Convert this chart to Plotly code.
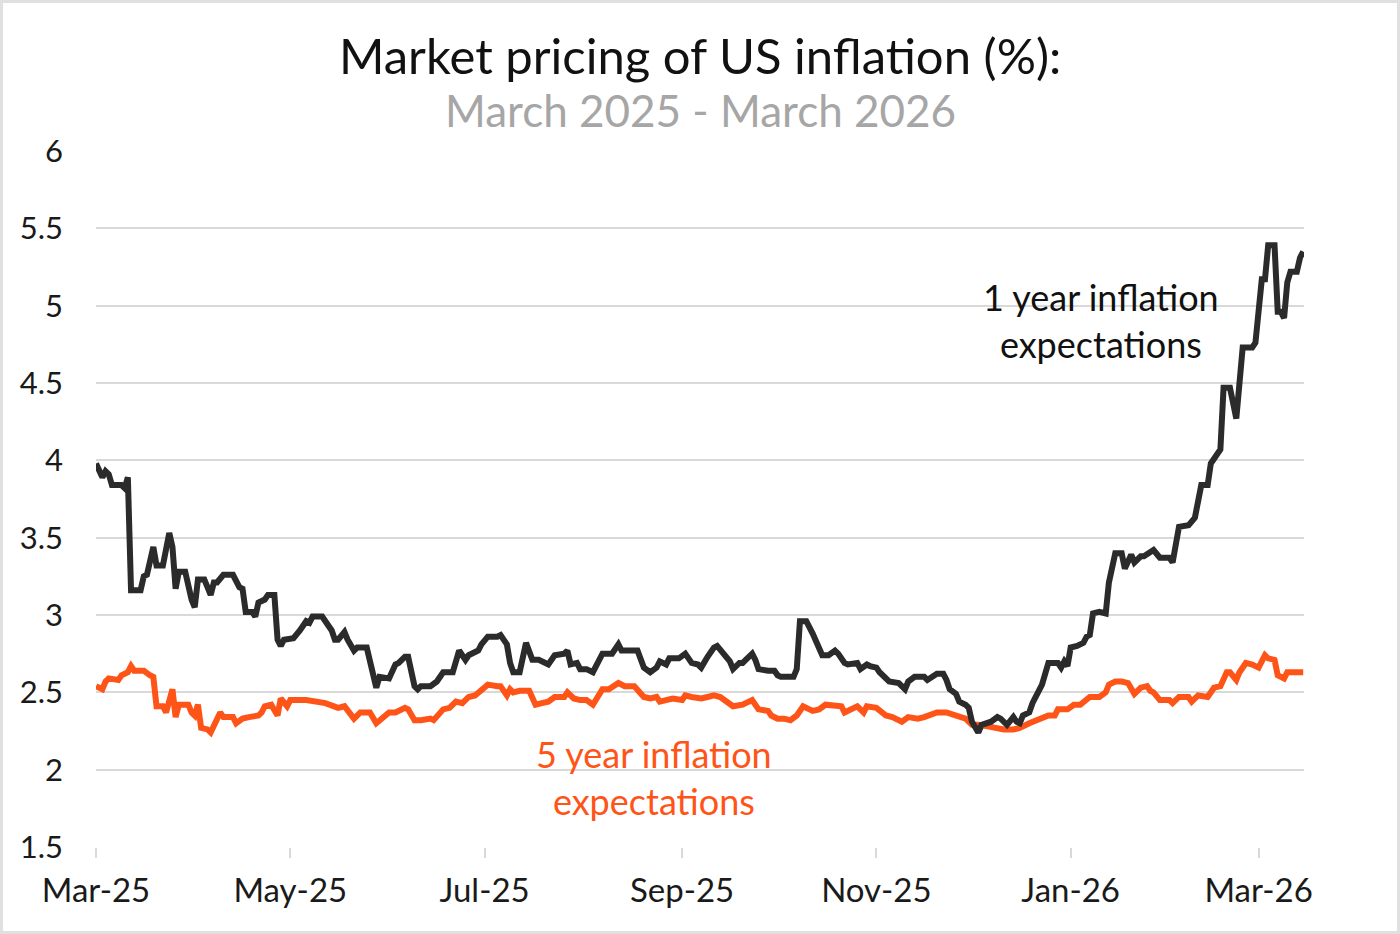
import plotly.graph_objects as go

# 1 year inflation expectations (black)
one_year_dates = [
    "2025-03-01", "2025-03-03", "2025-03-04", "2025-03-05", "2025-03-06", "2025-03-09", "2025-03-10",
    "2025-03-11", "2025-03-12", "2025-03-15", "2025-03-16", "2025-03-17", "2025-03-19", "2025-03-20",
    "2025-03-22", "2025-03-24", "2025-03-25", "2025-03-26", "2025-03-27", "2025-03-29", "2025-03-31",
    "2025-04-01", "2025-04-02", "2025-04-04", "2025-04-06", "2025-04-07", "2025-04-08", "2025-04-10",
    "2025-04-13", "2025-04-15", "2025-04-16", "2025-04-17", "2025-04-19", "2025-04-20", "2025-04-21",
    "2025-04-23", "2025-04-24", "2025-04-26", "2025-04-27", "2025-04-28", "2025-04-29", "2025-05-02",
    "2025-05-04", "2025-05-06", "2025-05-07", "2025-05-08", "2025-05-11", "2025-05-13", "2025-05-14",
    "2025-05-15", "2025-05-16", "2025-05-18", "2025-05-19", "2025-05-21", "2025-05-22", "2025-05-25",
    "2025-05-26", "2025-05-28", "2025-05-29", "2025-06-01", "2025-06-03", "2025-06-04", "2025-06-06",
    "2025-06-07", "2025-06-09", "2025-06-10", "2025-06-11", "2025-06-14", "2025-06-16", "2025-06-18",
    "2025-06-21", "2025-06-23", "2025-06-24", "2025-06-25", "2025-06-26", "2025-06-29", "2025-06-30",
    "2025-07-02", "2025-07-05", "2025-07-06", "2025-07-08", "2025-07-09", "2025-07-10", "2025-07-12",
    "2025-07-14", "2025-07-16", "2025-07-18", "2025-07-21", "2025-07-23", "2025-07-26", "2025-07-27",
    "2025-07-28", "2025-07-30", "2025-07-31", "2025-08-02", "2025-08-04", "2025-08-07", "2025-08-10",
    "2025-08-12", "2025-08-13", "2025-08-18", "2025-08-20", "2025-08-22", "2025-08-24", "2025-08-25",
    "2025-08-27", "2025-08-28", "2025-08-31", "2025-09-02", "2025-09-04", "2025-09-06", "2025-09-07",
    "2025-09-09", "2025-09-11", "2025-09-12", "2025-09-14", "2025-09-16", "2025-09-17", "2025-09-19",
    "2025-09-20", "2025-09-23", "2025-09-24", "2025-09-25", "2025-09-28", "2025-09-30", "2025-10-01",
    "2025-10-02", "2025-10-06", "2025-10-07", "2025-10-08", "2025-10-10", "2025-10-12", "2025-10-14",
    "2025-10-15", "2025-10-17", "2025-10-19", "2025-10-20", "2025-10-22", "2025-10-23", "2025-10-26",
    "2025-10-27", "2025-10-28", "2025-10-29", "2025-10-30", "2025-11-01", "2025-11-02", "2025-11-05",
    "2025-11-08", "2025-11-10", "2025-11-11", "2025-11-13", "2025-11-16", "2025-11-17", "2025-11-20",
    "2025-11-22", "2025-11-23", "2025-11-24", "2025-11-26", "2025-11-27", "2025-11-29", "2025-11-30",
    "2025-12-01", "2025-12-02", "2025-12-03", "2025-12-04", "2025-12-06", "2025-12-07", "2025-12-09",
    "2025-12-10", "2025-12-12", "2025-12-14", "2025-12-15", "2025-12-16", "2025-12-17", "2025-12-19",
    "2025-12-20", "2025-12-22", "2025-12-23", "2025-12-25", "2025-12-26", "2025-12-28", "2025-12-29",
    "2025-12-30", "2025-12-31", "2026-01-01", "2026-01-03", "2026-01-05", "2026-01-06", "2026-01-07",
    "2026-01-08", "2026-01-10", "2026-01-12", "2026-01-13", "2026-01-15", "2026-01-17", "2026-01-18",
    "2026-01-20", "2026-01-21", "2026-01-23", "2026-01-24", "2026-01-26", "2026-01-27", "2026-01-29",
    "2026-02-01", "2026-02-02", "2026-02-03", "2026-02-04", "2026-02-07", "2026-02-09", "2026-02-11",
    "2026-02-13", "2026-02-14", "2026-02-16", "2026-02-17", "2026-02-18", "2026-02-20", "2026-02-22",
    "2026-02-24", "2026-02-27", "2026-02-28", "2026-03-02", "2026-03-03", "2026-03-04", "2026-03-06",
    "2026-03-07", "2026-03-08", "2026-03-09", "2026-03-10", "2026-03-11", "2026-03-13", "2026-03-14",
    "2026-03-15",
]
one_year_values = [
    3.98, 3.89, 3.93, 3.91, 3.84, 3.84, 3.82,
    3.89, 3.16, 3.16, 3.25, 3.26, 3.44, 3.32,
    3.32, 3.53, 3.44, 3.17, 3.28, 3.28, 3.10,
    3.05, 3.23, 3.23, 3.13, 3.21, 3.21, 3.26,
    3.26, 3.18, 3.17, 3.02, 3.02, 2.99, 3.08,
    3.10, 3.13, 3.13, 2.84, 2.80, 2.84, 2.85,
    2.90, 2.96, 2.95, 2.99, 2.99, 2.94, 2.90,
    2.84, 2.84, 2.89, 2.84, 2.77, 2.79, 2.79,
    2.71, 2.53, 2.60, 2.59, 2.68, 2.69, 2.73,
    2.73, 2.54, 2.52, 2.54, 2.54, 2.57, 2.63,
    2.63, 2.77, 2.74, 2.71, 2.74, 2.77, 2.81,
    2.86, 2.86, 2.87, 2.81, 2.69, 2.63, 2.63,
    2.82, 2.71, 2.71, 2.68, 2.74, 2.75, 2.77,
    2.68, 2.69, 2.65, 2.65, 2.63, 2.75, 2.75,
    2.81, 2.77, 2.77, 2.66, 2.63, 2.66, 2.70,
    2.68, 2.72, 2.72, 2.75, 2.69, 2.68, 2.66,
    2.73, 2.79, 2.80, 2.75, 2.70, 2.65, 2.69,
    2.69, 2.75, 2.71, 2.65, 2.64, 2.64, 2.61,
    2.60, 2.60, 2.65, 2.96, 2.96, 2.88, 2.79,
    2.74, 2.74, 2.77, 2.75, 2.69, 2.68, 2.69,
    2.65, 2.67, 2.68, 2.67, 2.66, 2.63, 2.57,
    2.56, 2.52, 2.57, 2.60, 2.60, 2.58, 2.62,
    2.62, 2.58, 2.52, 2.49, 2.44, 2.42, 2.40,
    2.31, 2.28, 2.24, 2.29, 2.30, 2.31, 2.34,
    2.33, 2.29, 2.34, 2.31, 2.30, 2.35, 2.37,
    2.43, 2.50, 2.55, 2.69, 2.69, 2.69, 2.66,
    2.70, 2.67, 2.79, 2.80, 2.82, 2.86, 2.87,
    3.01, 3.02, 3.01, 3.21, 3.40, 3.40, 3.30,
    3.39, 3.34, 3.38, 3.38, 3.40, 3.42, 3.37,
    3.37, 3.34, 3.49, 3.57, 3.58, 3.63, 3.84,
    3.84, 3.98, 4.05, 4.07, 4.47, 4.47, 4.27,
    4.73, 4.73, 4.76, 5.17, 5.17, 5.39, 5.39,
    4.96, 4.96, 4.92, 5.15, 5.22, 5.22, 5.31,
    5.35,
]

# 5 year inflation expectations (orange)
five_year_dates = [
    "2025-03-01", "2025-03-03", "2025-03-04", "2025-03-05", "2025-03-08", "2025-03-09", "2025-03-11",
    "2025-03-12", "2025-03-13", "2025-03-16", "2025-03-18", "2025-03-19", "2025-03-20", "2025-03-22",
    "2025-03-23", "2025-03-25", "2025-03-26", "2025-03-27", "2025-03-30", "2025-03-31", "2025-04-01",
    "2025-04-02", "2025-04-03", "2025-04-05", "2025-04-06", "2025-04-09", "2025-04-10", "2025-04-13",
    "2025-04-14", "2025-04-16", "2025-04-18", "2025-04-21", "2025-04-22", "2025-04-23", "2025-04-25",
    "2025-04-27", "2025-04-28", "2025-04-30", "2025-05-01", "2025-05-06", "2025-05-12", "2025-05-16",
    "2025-05-18", "2025-05-21", "2025-05-23", "2025-05-26", "2025-05-28", "2025-05-29", "2025-06-01",
    "2025-06-03", "2025-06-06", "2025-06-07", "2025-06-09", "2025-06-11", "2025-06-14", "2025-06-15",
    "2025-06-18", "2025-06-20", "2025-06-22", "2025-06-24", "2025-06-26", "2025-06-28", "2025-06-30",
    "2025-07-02", "2025-07-05", "2025-07-06", "2025-07-08", "2025-07-09", "2025-07-10", "2025-07-12",
    "2025-07-15", "2025-07-17", "2025-07-19", "2025-07-21", "2025-07-23", "2025-07-26", "2025-07-27",
    "2025-07-29", "2025-07-31", "2025-08-02", "2025-08-04", "2025-08-07", "2025-08-09", "2025-08-12",
    "2025-08-14", "2025-08-17", "2025-08-20", "2025-08-22", "2025-08-24", "2025-08-25", "2025-08-27",
    "2025-08-29", "2025-09-01", "2025-09-02", "2025-09-04", "2025-09-07", "2025-09-09", "2025-09-11",
    "2025-09-13", "2025-09-15", "2025-09-17", "2025-09-20", "2025-09-23", "2025-09-25", "2025-09-28",
    "2025-09-29", "2025-10-01", "2025-10-03", "2025-10-05", "2025-10-07", "2025-10-09", "2025-10-12",
    "2025-10-14", "2025-10-16", "2025-10-19", "2025-10-21", "2025-10-22", "2025-10-24", "2025-10-26",
    "2025-10-28", "2025-10-29", "2025-11-01", "2025-11-04", "2025-11-06", "2025-11-09", "2025-11-11",
    "2025-11-14", "2025-11-16", "2025-11-20", "2025-11-23", "2025-11-26", "2025-11-28", "2025-11-29",
    "2025-12-01", "2025-12-03", "2025-12-06", "2025-12-08", "2025-12-11", "2025-12-14", "2025-12-16",
    "2025-12-19", "2025-12-22", "2025-12-25", "2025-12-27", "2025-12-28", "2025-12-31", "2026-01-02",
    "2026-01-04", "2026-01-06", "2026-01-07", "2026-01-10", "2026-01-12", "2026-01-13", "2026-01-15",
    "2026-01-17", "2026-01-19", "2026-01-21", "2026-01-23", "2026-01-25", "2026-01-26", "2026-01-27",
    "2026-01-29", "2026-02-01", "2026-02-02", "2026-02-04", "2026-02-07", "2026-02-08", "2026-02-10",
    "2026-02-13", "2026-02-15", "2026-02-17", "2026-02-19", "2026-02-20", "2026-02-22", "2026-02-23",
    "2026-02-25", "2026-02-27", "2026-03-01", "2026-03-03", "2026-03-04", "2026-03-06", "2026-03-07",
    "2026-03-09", "2026-03-10", "2026-03-13", "2026-03-15",
]
five_year_values = [
    2.54, 2.52, 2.57, 2.59, 2.58, 2.61, 2.63,
    2.67, 2.64, 2.64, 2.61, 2.60, 2.41, 2.41,
    2.37, 2.52, 2.34, 2.42, 2.42, 2.37, 2.35,
    2.42, 2.27, 2.26, 2.24, 2.37, 2.34, 2.34,
    2.30, 2.33, 2.34, 2.35, 2.37, 2.41, 2.42,
    2.35, 2.46, 2.41, 2.45, 2.45, 2.43, 2.40,
    2.41, 2.33, 2.37, 2.37, 2.30, 2.32, 2.37,
    2.37, 2.40, 2.39, 2.32, 2.32, 2.33, 2.32,
    2.39, 2.40, 2.44, 2.43, 2.47, 2.48, 2.52,
    2.55, 2.54, 2.54, 2.48, 2.52, 2.50, 2.51,
    2.51, 2.42, 2.43, 2.44, 2.47, 2.47, 2.50,
    2.46, 2.45, 2.45, 2.42, 2.52, 2.52, 2.56,
    2.54, 2.54, 2.47, 2.46, 2.47, 2.44, 2.45,
    2.46, 2.45, 2.48, 2.47, 2.46, 2.47, 2.48,
    2.47, 2.44, 2.41, 2.42, 2.45, 2.39, 2.38,
    2.35, 2.33, 2.33, 2.32, 2.35, 2.41, 2.38,
    2.39, 2.42, 2.41, 2.41, 2.37, 2.39, 2.41,
    2.37, 2.41, 2.40, 2.35, 2.34, 2.31, 2.34,
    2.33, 2.34, 2.37, 2.37, 2.35, 2.34, 2.33,
    2.29, 2.29, 2.28, 2.27, 2.26, 2.26, 2.27,
    2.30, 2.32, 2.35, 2.35, 2.39, 2.39, 2.42,
    2.42, 2.45, 2.47, 2.47, 2.50, 2.55, 2.57,
    2.57, 2.56, 2.49, 2.53, 2.54, 2.51, 2.50,
    2.45, 2.45, 2.43, 2.47, 2.47, 2.44, 2.48,
    2.47, 2.53, 2.54, 2.63, 2.63, 2.58, 2.63,
    2.69, 2.68, 2.66, 2.74, 2.72, 2.71, 2.61,
    2.59, 2.63, 2.63, 2.63,
]

tick_dates = ["2025-03-01", "2025-05-01", "2025-07-01", "2025-09-01",
              "2025-11-01", "2026-01-01", "2026-03-01"]
tick_labels = ["Mar-25", "May-25", "Jul-25", "Sep-25", "Nov-25", "Jan-26", "Mar-26"]
y_ticks = [1.5, 2, 2.5, 3, 3.5, 4, 4.5, 5, 5.5, 6]
y_tick_labels = ["1.5", "2", "2.5", "3", "3.5", "4", "4.5", "5", "5.5", "6"]

BLACK = "#2b2b2b"
ORANGE = "#ff5418"
GRID = "#d9d9d9"
FONT = "Lato"

fig = go.Figure()
fig.add_trace(go.Scatter(x=five_year_dates, y=five_year_values, mode="lines",
                         line=dict(color=ORANGE, width=6), name="5 year",
                         hoverinfo="x+y"))
fig.add_trace(go.Scatter(x=one_year_dates, y=one_year_values, mode="lines",
                         line=dict(color=BLACK, width=6), name="1 year",
                         hoverinfo="x+y"))

W, H = 1400, 934
ML, MR, MT, MB = 96, 96, 151, 87
PW, PH = W - ML - MR, H - MT - MB

fig.update_layout(
    width=W, height=H,
    margin=dict(l=ML, r=MR, t=MT, b=MB),
    paper_bgcolor="white", plot_bgcolor="white",
    showlegend=False,
    font=dict(family=FONT, color="#1a1a1a"),
    xaxis=dict(
        type="date",
        range=["2025-03-01", "2026-03-15 06:00"],
        tickvals=tick_dates, ticktext=tick_labels,
        showgrid=False, zeroline=False, showline=False,
        ticks="outside", ticklen=10, tickwidth=2, tickcolor=GRID,
        ticklabelstandoff=4,
        tickfont=dict(size=33, family=FONT, color="#1a1a1a"),
    ),
    yaxis=dict(
        range=[1.5, 6],
        tickvals=y_ticks, ticktext=y_tick_labels,
        showgrid=True, gridcolor=GRID, gridwidth=2,
        zeroline=False, showline=False, ticks="",
        ticklabelstandoff=32,
        tickfont=dict(size=31, family=FONT, color="#1a1a1a"),
    ),
    annotations=[
        dict(text="Market pricing of US inflation (%):", xref="paper", yref="paper",
             x=0.5, y=(H - MB - 55) / PH, xanchor="center", yanchor="middle",
             showarrow=False, font=dict(size=49, family=FONT, color="#111111")),
        dict(text="March 2025 - March 2026", xref="paper", yref="paper",
             x=0.5, y=(H - MB - 110) / PH, xanchor="center", yanchor="middle",
             showarrow=False, font=dict(size=44, family=FONT, color="#a6a6a6")),
        dict(text="1 year inflation<br>expectations", xref="paper", yref="paper",
             x=(1101 - ML) / PW, y=(H - MB - 320) / PH, xanchor="center", yanchor="middle",
             showarrow=False, align="center",
             font=dict(size=36, family=FONT, color="#111111")),
        dict(text="5 year inflation<br>expectations", xref="paper", yref="paper",
             x=(654 - ML) / PW, y=(H - MB - 777) / PH, xanchor="center", yanchor="middle",
             showarrow=False, align="center",
             font=dict(size=36, family=FONT, color=ORANGE)),
    ],
    shapes=[
        dict(type="rect", xref="paper", yref="paper", layer="above",
             x0=(1.5 - ML) / PW, x1=(W - 1.5 - ML) / PW,
             y0=-(MB - 1.5) / PH, y1=1 + (MT - 1.5) / PH,
             line=dict(color="#e0e0e0", width=3), fillcolor="rgba(0,0,0,0)"),
    ],
)

fig.write_html(
    "out.html",
    config={"displayModeBar": False},
    post_script="document.body.style.margin='0';document.body.style.overflow='hidden';",
)
